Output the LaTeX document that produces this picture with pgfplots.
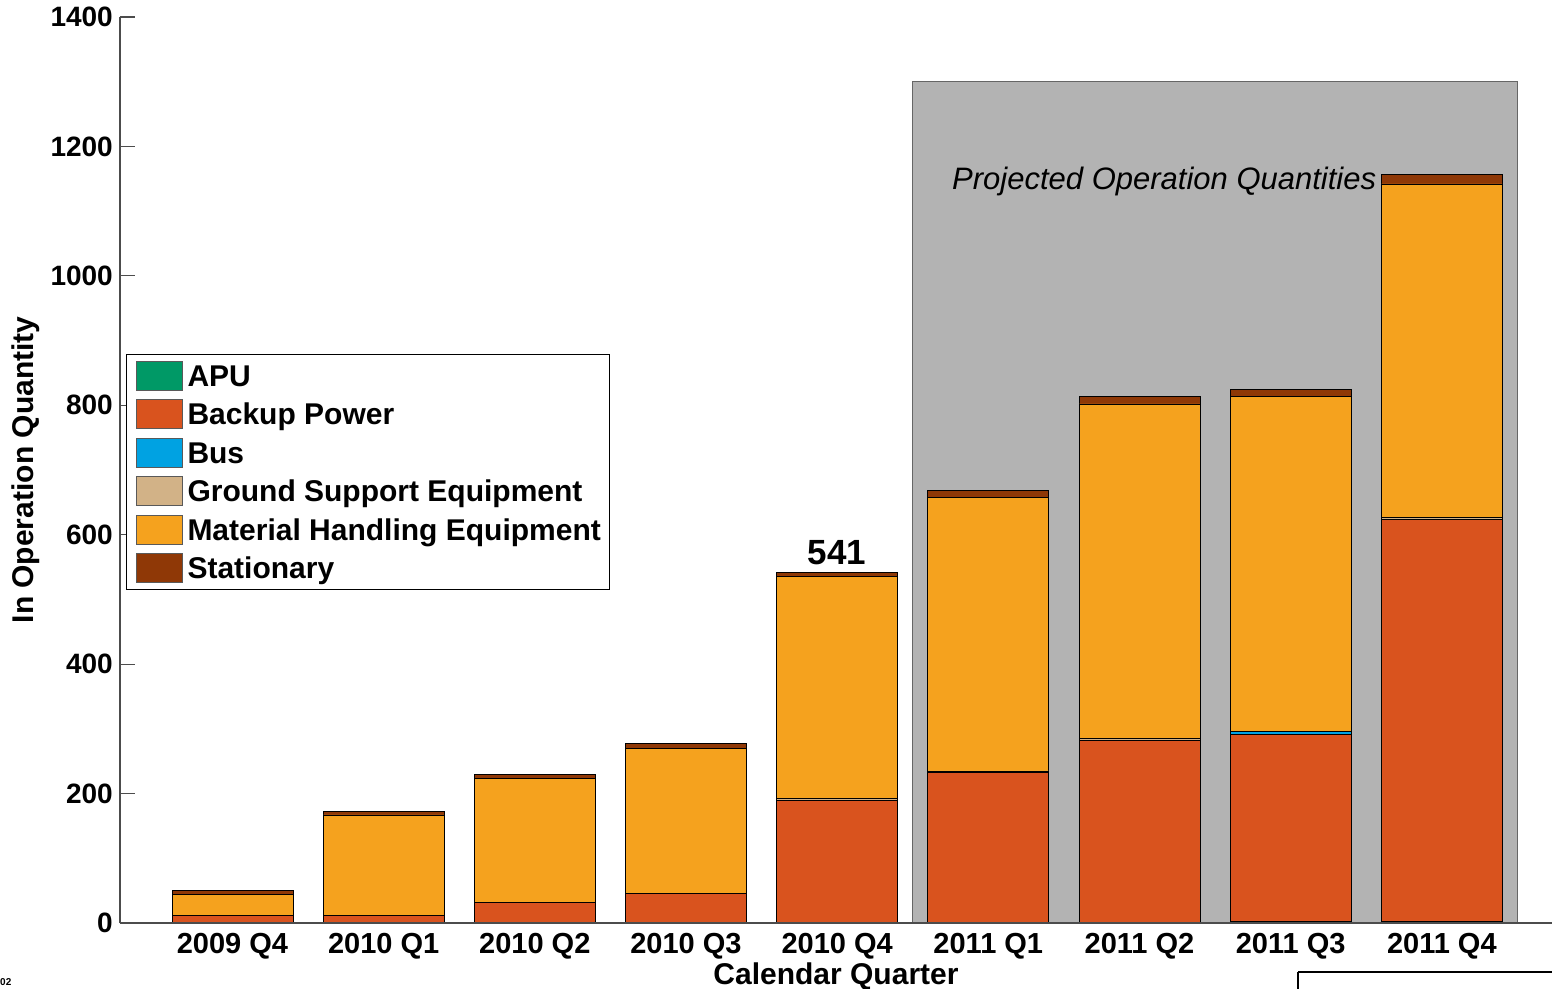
\documentclass[border=0pt]{standalone}
\usepackage{pgfplots}
\pgfplotsset{compat=1.18}
\usepackage{fontspec}
\setmainfont{Liberation Sans}
\definecolor{cAPU}{RGB}{0,153,102}
\definecolor{cBackup}{RGB}{217,83,30}
\definecolor{cBus}{RGB}{0,162,226}
\definecolor{cGSE}{RGB}{210,178,135}
\definecolor{cMHE}{RGB}{245,162,30}
\definecolor{cStat}{RGB}{143,56,6}
\definecolor{cShade}{RGB}{179,179,179}
\begin{document}
\begin{tikzpicture}
\path[use as bounding box] (-120pt,-65pt) rectangle (1432pt,923pt);
% background shading axis
\begin{axis}[
  at={(0pt,0pt)}, anchor=south west,
  scale only axis, width=1432pt, height=906pt,
  xmin=0.256, xmax=9.729, ymin=0, ymax=1400,
  hide axis,
]
\addplot[fill=cShade, draw=black!60, line width=1pt] coordinates {(5.5,0) (5.5,1300) (9.5,1300) (9.5,0)} \closedcycle;
\end{axis}
\begin{axis}[
  at={(0pt,0pt)}, anchor=south west,
  scale only axis, width=1432pt, height=906pt,
  ybar stacked, bar width=0.8,
  xmin=0.256, xmax=9.729, ymin=0, ymax=1400,
  axis x line*=bottom, axis y line*=left,
  axis line style={black!70, line width=1.2pt},
  xtick={1,...,9},
  xticklabels={2009 Q4,2010 Q1,2010 Q2,2010 Q3,2010 Q4,2011 Q1,2011 Q2,2011 Q3,2011 Q4},
  x tick style={draw=none},
  ytick={0,200,...,1400},
  y tick style={black!70, line width=1.2pt},
  major tick length=15pt, tick align=inside,
  /pgf/number format/assume math mode=true,
  /pgf/number format/1000 sep={},
  xticklabel style={font=\fontsize{29}{35}\selectfont\bfseries, inner sep=0pt, yshift=-10pt},
  yticklabel style={font=\fontsize{28}{34}\selectfont\bfseries, inner sep=0pt, xshift=-7pt},
  xlabel={Calendar Quarter},
  ylabel={In Operation Quantity},
  label style={font=\fontsize{30}{36}\selectfont\bfseries},
  xlabel style={at={(axis description cs:0.5,0)}, anchor=base, inner sep=0pt, yshift=-61pt},
  ylabel style={at={(axis description cs:0,0.5)}, anchor=center, inner sep=0pt, yshift=94pt},
  axis on top,
  legend cell align=left,
  legend image code/.code={\draw[#1, draw=black!65, line width=1pt] (0pt,-14.5pt) rectangle (46pt,14.5pt);},
  legend style={at={(axis description cs:0.0042,0.628)}, anchor=north west,
    draw=black, line width=1pt, inner xsep=9pt, inner ysep=6pt,
    row sep=8.5pt, column sep=5pt,
    font=\fontsize{30}{36}\selectfont\bfseries,
    nodes={inner sep=0pt, text height=24.5pt, text depth=3.5pt}},
  every axis plot/.append style={draw=black, line width=0.8pt},
]
% APU
\addplot[fill=cAPU] coordinates {(1,0) (2,0) (3,0) (4,0) (5,0) (6,0) (7,0) (8,2) (9,2)};
% Backup Power
\addplot[fill=cBackup] coordinates {(1,11) (2,11) (3,32) (4,45) (5,190) (6,232) (7,282) (8,290) (9,621)};
% Bus
\addplot[fill=cBus] coordinates {(1,0) (2,0) (3,0) (4,0) (5,0) (6,0) (7,0) (8,4) (9,0)};
% Ground Support Equipment
\addplot[fill=cGSE] coordinates {(1,0) (2,0) (3,0) (4,0) (5,3) (6,3) (7,3) (8,0) (9,4)};
% Material Handling Equipment
\addplot[fill=cMHE] coordinates {(1,33) (2,156) (3,192) (4,225) (5,342) (6,423) (7,517) (8,517) (9,515)};
% Stationary
\addplot[fill=cStat] coordinates {(1,6) (2,6) (3,6) (4,8) (5,6) (6,11) (7,12) (8,12) (9,14)};
\legend{APU,Backup Power,Bus,Ground Support Equipment,Material Handling Equipment,Stationary}
\node[anchor=base, inner sep=0pt, font=\fontsize{35}{40}\selectfont\bfseries] at (axis cs:5,541) [yshift=8pt] {541};
\node[anchor=base west, inner sep=0pt, font=\fontsize{31}{36}\selectfont\itshape] at (axis cs:5.76,1134) {Projected Operation Quantities};
\end{axis}
\draw[black, line width=2pt] (1178pt,-48.5pt) -- (1440pt,-48.5pt);
\draw[black, line width=2pt] (1178pt,-48.5pt) -- (1178pt,-70pt);
\node[anchor=base west, inner sep=0pt, font=\fontsize{10}{12}\selectfont\bfseries] at (-120pt,-62pt) {02};
\end{tikzpicture}
\end{document}
